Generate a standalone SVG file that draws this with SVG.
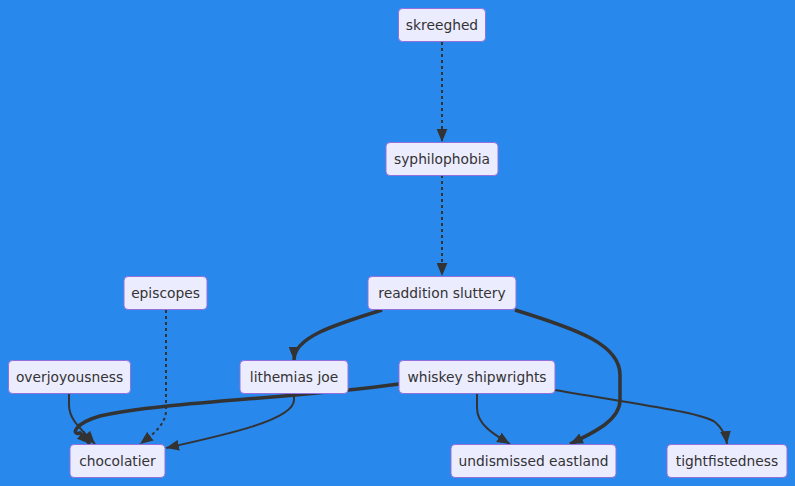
<svg xmlns="http://www.w3.org/2000/svg" width="795" height="486" viewBox="0 0 795 486">
<defs>
<marker id="arr" viewBox="0 0 12 10" refX="12" refY="5" markerWidth="13" markerHeight="11" markerUnits="userSpaceOnUse" orient="auto">
<path d="M0,0 L12,5 L0,10 Z" fill="#333333"/>
</marker>
</defs>
<style>
.node rect{fill:#ECECFF;stroke:#9370DB;stroke-width:1}
.node text{font-family:"DejaVu Sans","Noto Sans",sans-serif;font-size:13.8px;fill:#333333;text-anchor:middle;dominant-baseline:central}
.e{fill:none;stroke:#333333;stroke-width:2;marker-end:url(#arr)}
.thick{stroke-width:3.5}
.dot{stroke-dasharray:3 3}
</style>
<rect width="795" height="486" fill="#2888EC"/>
<g id="edges">
<path class="e dot" d="M442,42 L442,142"/>
<path class="e dot" d="M442,175 L442,276"/>
<path class="e thick" d="M382,310 C330,326 294,338 294,360"/>
<path class="e thick" d="M515,310 C580,330 620,345 620,375 L620,400 C620,420 595,432 570,444"/>
<path class="e thick" d="M399,384 C300,398 160,402 100,416 C72,424 72,436 80,433 C84,436 86,440 90,444"/>
<path class="e" d="M69,393 L69,405 C69,420 82,430 95,444"/>
<path class="e dot" d="M166,310 L166,410 C166,425 152,435 140,444"/>
<path class="e" d="M294,393 L294,400 C294,420 225,435 166,448"/>
<path class="e" d="M477,393 L477,408 C477,425 495,435 510,444"/>
<path class="e" d="M555,390 C640,405 700,412 715,422 C722,428 726,436 727,444"/>
</g>
<g id="skreeghed" class="node"><rect x="398.5" y="8.5" width="87" height="33" rx="4"/><text x="442" y="25">skreeghed</text></g>
<g id="syphilophobia" class="node"><rect x="386" y="142.5" width="112" height="33" rx="4"/><text x="442" y="159">syphilophobia</text></g>
<g id="readdition_sluttery" class="node"><rect x="368" y="276.5" width="148" height="33" rx="4"/><text x="442" y="293">readdition sluttery</text></g>
<g id="episcopes" class="node"><rect x="124" y="276.5" width="83" height="33" rx="4"/><text x="165.5" y="293">episcopes</text></g>
<g id="overjoyousness" class="node"><rect x="8.5" y="360.5" width="122" height="33" rx="4"/><text x="69.5" y="377">overjoyousness</text></g>
<g id="lithemias_joe" class="node"><rect x="240" y="360.5" width="108" height="33" rx="4"/><text x="294" y="377">lithemias joe</text></g>
<g id="whiskey_shipwrights" class="node"><rect x="399" y="360.5" width="156" height="33" rx="4"/><text x="477" y="377">whiskey shipwrights</text></g>
<g id="chocolatier" class="node"><rect x="70" y="444.5" width="95" height="33" rx="4"/><text x="117.5" y="461">chocolatier</text></g>
<g id="undismissed_eastland" class="node"><rect x="451" y="444.5" width="165" height="33" rx="4"/><text x="533.5" y="461">undismissed eastland</text></g>
<g id="tightfistedness" class="node"><rect x="667" y="444.5" width="120" height="33" rx="4"/><text x="727" y="461">tightfistedness</text></g>
</svg>
